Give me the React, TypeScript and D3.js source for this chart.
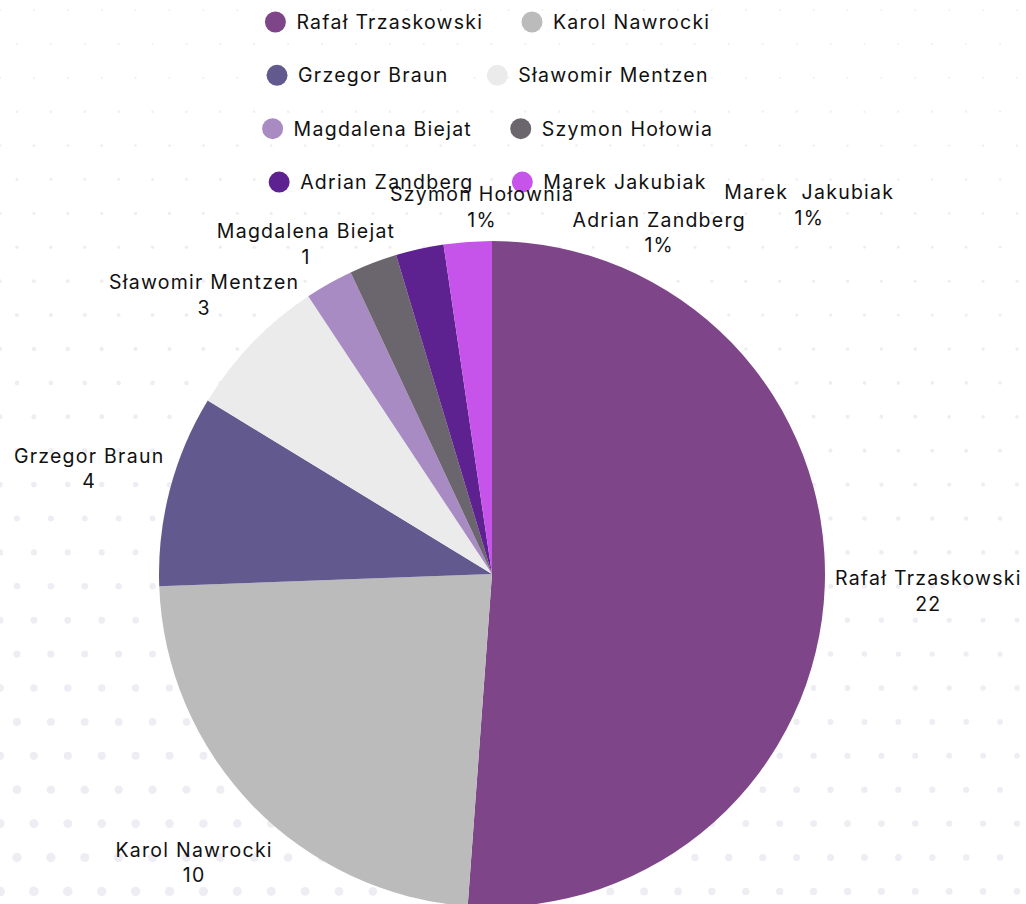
import React, { useEffect, useRef } from "react";
import * as d3 from "d3";

const candidates = [
  "Rafał Trzaskowski",
  "Karol Nawrocki",
  "Grzegor Braun",
  "Sławomir Mentzen",
  "Magdalena Biejat",
  "Szymon Hołowia",
  "Adrian Zandberg",
  "Marek Jakubiak",
];
const sliceLabels = [
  "Rafał Trzaskowski",
  "Karol Nawrocki",
  "Grzegor Braun",
  "Sławomir Mentzen",
  "Magdalena Biejat",
  "Szymon Hołownia",
  "Adrian Zandberg",
  "Marek  Jakubiak",
];
const votes = [22, 10, 4, 3, 1, 1, 1, 1];
const valueLabels = ["22", "10", "4", "3", "1", "1%", "1%", "1%"];
const colors = [
  "#7e4689",
  "#bbbbbb",
  "#625a8f",
  "#ebebeb",
  "#a98bc4",
  "#6b666d",
  "#5e2290",
  "#c653ea",
];
// manual label nudges (dx, dy) from the default radial label position
const labelNudges: [number, number][] = [
  [20, 2],
  [1, 0],
  [-1, 0],
  [11, 10],
  [17, 33],
  [138, 22],
  [257, 65],
  [347, 46],
];

const W = 1026;
const H = 904;
const FONT = "Inter, 'Noto Sans', sans-serif";
const FS = 19.5;
const LS = 1.25;

export default function App() {
  const ref = useRef<SVGSVGElement>(null);

  useEffect(() => {
    const svg = d3.select(ref.current);
    svg.selectAll("*").remove();

    // background dot pattern
    const bg = svg.append("g");
    const step = 33.9;
    const dots: { x: number; y: number; r: number }[] = [];
    for (let k = 0; 10 + k * step < H + 5; k++) {
      const y = 10 + k * step;
      const off = k % 2 === 0 ? 0 : step / 2;
      for (let x = off; x < W + 5; x += step) {
        const t = Math.pow(y / H, 1.2) * (1 - 0.4 * (x / W));
        dots.push({ x, y, r: 0.9 + 4.1 * t });
      }
    }
    bg.selectAll("circle")
      .data(dots)
      .join("circle")
      .attr("cx", (d) => d.x)
      .attr("cy", (d) => d.y)
      .attr("r", (d) => d.r)
      .attr("fill", "#efedf4");

    // pie
    const cx = 492;
    const cy = 574;
    const radius = 333;
    const pie = d3
      .pie<number>()
      .sort(null)
      .value((d) => d)
      .startAngle(0)
      .endAngle(2 * Math.PI);
    const arcs = pie(votes);
    const arc = d3.arc<d3.PieArcDatum<number>>().innerRadius(0).outerRadius(radius);
    const labelArc = d3
      .arc<d3.PieArcDatum<number>>()
      .innerRadius(416 * 2)
      .outerRadius(0);

    const g = svg.append("g").attr("transform", `translate(${cx},${cy})`);
    g.selectAll("path")
      .data(arcs)
      .join("path")
      .attr("d", arc)
      .attr("fill", (_, i) => colors[i]);

    // legend
    const legend = svg.append("g");
    const rows = [
      [0, 1],
      [2, 3],
      [4, 5],
      [6, 7],
    ];
    const legendCenter = 487;
    const r0 = 22;
    const rowStep = 53.35;
    rows.forEach((row, ri) => {
      const ry = r0 + ri * rowStep;
      const rg = legend.append("g");
      let x = 0;
      row.forEach((idx, j) => {
        if (j > 0) x += 39.5;
        rg.append("circle")
          .attr("cx", x + 10.5)
          .attr("cy", ry)
          .attr("r", 10.5)
          .attr("fill", colors[idx]);
        const t = rg
          .append("text")
          .attr("x", x + 31.5)
          .attr("y", ry + 7)
          .attr("font-family", FONT)
          .attr("font-size", FS)
          .attr("letter-spacing", LS)
          .attr("fill", "#111")
          .text(candidates[idx]);
        const w = (t.node() as SVGTextElement).getComputedTextLength() - LS;
        x += 31.5 + w;
      });
      rg.attr("transform", `translate(${legendCenter - x / 2},0)`);
    });

    // slice labels
    const lg = svg.append("g").attr("transform", `translate(${cx},${cy})`);
    arcs.forEach((a, i) => {
      const [lx, ly] = labelArc.centroid(a);
      const x = lx + labelNudges[i][0] + LS / 2;
      const y = ly + labelNudges[i][1];
      const t = lg
        .append("text")
        .attr("font-family", FONT)
        .attr("font-size", FS)
        .attr("letter-spacing", LS)
        .attr("fill", "#111")
        .attr("text-anchor", "middle")
        .style("white-space", "pre");
      t.append("tspan").attr("x", x).attr("y", y - 6).text(sliceLabels[i]);
      t.append("tspan").attr("x", x).attr("y", y + 19.5).text(valueLabels[i]);
    });
  }, []);

  return (
    <svg
      ref={ref}
      width={W}
      height={H}
      style={{ position: "absolute", left: 0, top: 0, background: "#fff" }}
    />
  );
}
